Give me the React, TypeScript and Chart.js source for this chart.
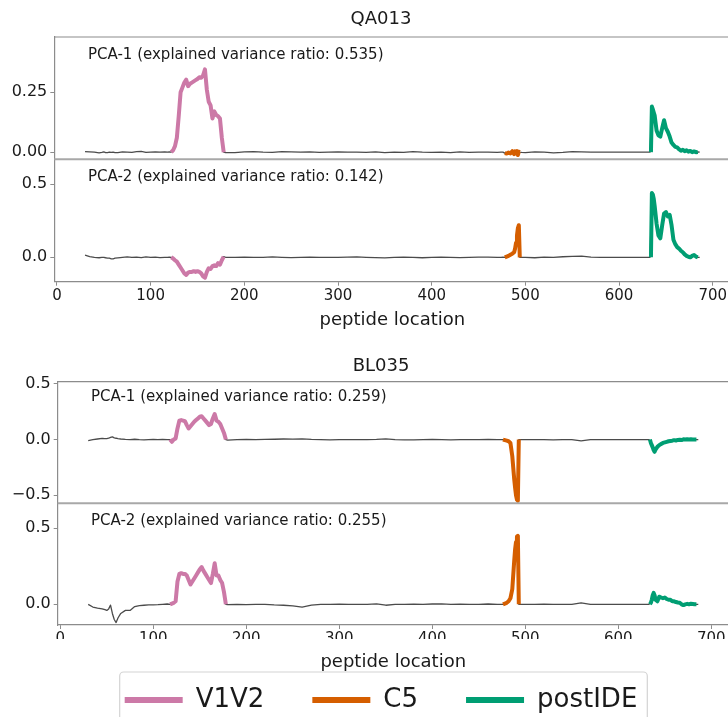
import React, { useEffect, useRef } from 'react';
import { Chart, registerables } from 'chart.js';

Chart.register(...registerables);

const FONT = "'DejaVu Sans', 'Liberation Sans', sans-serif";
Chart.defaults.font.family = FONT;

// peptide positions shared by all four panels
const positions = [
  30, 35, 40, 45, 48, 50, 52, 54, 56, 58, 60, 62, 65, 70, 75, 80, 85, 90, 95, 100, 105, 110, 115,
  118, 120, 122, 124, 126, 128, 130, 132, 134, 136, 138, 140, 142, 144, 146, 148, 150, 152, 154, 156, 158, 160, 162, 164, 166, 168, 170, 172, 174, 176, 178, 180,
  190, 200, 210, 220, 230, 240, 250, 260, 270, 280, 290, 300, 310, 320, 330, 340, 350, 360, 370, 380, 390, 400, 410, 420, 430, 440, 450, 460, 470,
  474, 476, 478, 480, 482, 484, 486, 488, 489, 490, 491, 492, 493, 494, 496,
  500, 510, 520, 530, 540, 550, 560, 570, 580, 590, 600, 610, 620, 630,
  632, 633, 634, 635, 636, 637, 638, 639, 640, 642, 644, 646, 648, 650, 652, 654, 656, 658, 660, 662, 664, 666, 668, 670, 672, 674, 676, 678, 680, 682, 684, 686,
];

const qa013Pca1 = [
  0.002, 0.001, 0.0, -0.003, -0.001, 0.001, -0.002, -0.002, 0.0, -0.001, 0.0, -0.002, -0.002, 0.001, 0.0, -0.001, 0.002, 0.003, -0.001, 0.0, 0.001, 0.0, 0.001,
  0.0, 0.001, 0.0, 0.008, 0.025, 0.06, 0.15, 0.25, 0.27, 0.29, 0.302, 0.275, 0.285, 0.29, 0.295, 0.3, 0.305, 0.312, 0.31, 0.32, 0.345, 0.26, 0.21, 0.195, 0.14, 0.17, 0.155, 0.15, 0.14, 0.06, 0.0, -0.002,
  -0.002, 0.001, 0.002, 0.0, -0.001, 0.002, 0.001, 0.0, 0.001, -0.001, 0.0, 0.001, 0.0, 0.0, -0.001, 0.001, -0.002, 0.0, -0.001, 0.002, 0.0, -0.001, 0.0, -0.002, 0.001, -0.001, 0.0, 0.0, -0.001,
  0.0, 0.0, -0.004, -0.006, -0.002, -0.005, 0.004, -0.008, 0.003, -0.006, 0.005, -0.012, 0.002, 0.0, -0.001,
  -0.002, 0.001, 0.0, -0.003, -0.001, 0.002, 0.001, 0.0, 0.0, 0.0, 0.0, 0.0, 0.0, 0.0,
  0.0, 0.0, 0.0, 0.19, 0.178, 0.165, 0.152, 0.12, 0.09, 0.07, 0.065, 0.1, 0.133, 0.1, 0.085, 0.065, 0.04, 0.03, 0.022, 0.02, 0.012, 0.006, 0.01, 0.004, 0.008, 0.002, 0.005, 0.0, 0.003, 0.0, 0.001, 0.0,
];

const qa013Pca2 = [
  0.015, 0.005, 0.0, -0.003, 0.0, 0.0, -0.003, -0.005, -0.006, -0.01, -0.01, -0.006, -0.004, 0.0, 0.003, 0.0, 0.002, -0.002, 0.003, 0.0, 0.002, -0.002, 0.0,
  0.0, 0.002, 0.0, -0.008, -0.02, -0.03, -0.05, -0.07, -0.09, -0.11, -0.12, -0.105, -0.1, -0.1, -0.095, -0.1, -0.095, -0.1, -0.11, -0.13, -0.14, -0.1, -0.075, -0.08, -0.06, -0.055, -0.06, -0.04, -0.05, -0.02, 0.005, 0.0,
  0.0, 0.002, -0.001, 0.0, 0.003, 0.0, -0.002, 0.0, 0.001, 0.0, -0.001, 0.0, 0.002, 0.003, 0.0, -0.002, -0.004, 0.0, 0.002, 0.0, -0.003, 0.0, 0.001, 0.0, -0.002, 0.0, 0.002, 0.001, 0.0,
  0.0, 0.002, 0.0, 0.005, 0.01, 0.018, 0.025, 0.035, 0.06, 0.1, 0.15, 0.2, 0.22, 0.0, 0.0,
  0.0, -0.003, 0.002, 0.0, 0.004, 0.006, 0.008, 0.002, 0.0, 0.0, 0.0, 0.0, 0.0, 0.0,
  0.0, 0.0, 0.0, 0.44, 0.43, 0.4, 0.35, 0.29, 0.23, 0.15, 0.13, 0.22, 0.3, 0.31, 0.28, 0.29, 0.22, 0.12, 0.09, 0.07, 0.06, 0.045, 0.035, 0.02, 0.01, 0.004, 0.0, 0.01, 0.016, 0.005, 0.0, 0.0,
];

const bl035Pca1 = [
  -0.01, 0.0, 0.005, 0.01, 0.008, 0.008, 0.012, 0.02, 0.025, 0.015, 0.012, 0.008, 0.005, 0.002, 0.0, 0.003, 0.0, -0.002, 0.0, 0.002, 0.0, 0.001, 0.0,
  0.0, -0.02, 0.0, 0.01, 0.1, 0.17, 0.175, 0.17, 0.165, 0.13, 0.1, 0.12, 0.14, 0.16, 0.175, 0.19, 0.205, 0.21, 0.19, 0.17, 0.15, 0.13, 0.14, 0.19, 0.23, 0.17, 0.16, 0.14, 0.1, 0.06, 0.0, -0.005,
  0.0, 0.002, 0.0, 0.001, 0.003, 0.005, 0.004, 0.006, 0.002, 0.0, -0.002, 0.0, 0.0, -0.001, 0.0, 0.002, 0.006, 0.0, -0.003, -0.002, 0.0, 0.001, 0.0, -0.002, 0.0, 0.0, 0.0, 0.001, 0.0,
  0.0, 0.0, -0.005, -0.01, -0.015, -0.03, -0.15, -0.35, -0.43, -0.5, -0.54, -0.55, 0.0, 0.0, 0.0,
  0.0, 0.0, 0.0, -0.002, 0.0, 0.0, -0.012, 0.0, 0.0, 0.0, 0.0, 0.0, 0.0, 0.0,
  0.0, 0.0, 0.0, -0.03, -0.05, -0.07, -0.095, -0.11, -0.09, -0.065, -0.05, -0.04, -0.03, -0.025, -0.02, -0.015, -0.012, -0.01, -0.005, -0.008, -0.003, -0.001, -0.004, 0.002, 0.0, 0.003, 0.0, 0.002, 0.0, 0.0, 0.0, 0.0,
];

const bl035Pca2 = [
  0.0, -0.018, -0.025, -0.03, -0.035, -0.04, -0.03, -0.005, -0.06, -0.1, -0.12, -0.09, -0.06, -0.04, -0.04, -0.015, -0.008, -0.006, -0.004, -0.003, -0.002, 0.0, 0.002,
  0.0, 0.005, 0.01, 0.02, 0.15, 0.2, 0.205, 0.2, 0.2, 0.19, 0.16, 0.13, 0.15, 0.17, 0.19, 0.21, 0.23, 0.245, 0.22, 0.2, 0.18, 0.16, 0.14, 0.2, 0.27, 0.19, 0.19, 0.16, 0.14, 0.08, 0.0, -0.002,
  0.0, -0.002, 0.0, 0.0, -0.004, -0.006, -0.01, -0.018, -0.005, 0.0, 0.0, 0.001, 0.0, -0.001, 0.0, 0.003, -0.006, 0.0, 0.0, 0.001, 0.0, 0.002, 0.003, 0.0, 0.001, 0.0, 0.0, 0.002, 0.0,
  0.0, 0.0, 0.005, 0.01, 0.02, 0.04, 0.1, 0.28, 0.36, 0.41, 0.445, 0.45, 0.0, 0.0, 0.0,
  0.0, 0.0, 0.001, 0.0, 0.0, 0.0, 0.01, 0.0, 0.0, 0.0, 0.0, 0.0, 0.0, 0.0,
  0.0, 0.0, 0.0, 0.01, 0.03, 0.06, 0.075, 0.06, 0.03, 0.02, 0.05, 0.045, 0.04, 0.045, 0.035, 0.03, 0.03, 0.02, 0.02, 0.015, 0.012, 0.01, 0.0, -0.005, 0.0, 0.003, 0.0, 0.004, 0.002, 0.0, 0.0, 0.0,
];

const regionNames = ['V1V2', 'C5', 'postIDE'];
const regionColors = ['#cc79a7', '#d55e00', '#009e73'];
const qa013RegionStarts = [122, 478, 634];
const qa013RegionEnds = [178, 494, 684];
const bl035RegionStarts = [118, 476, 634];
const bl035RegionEnds = [178, 493, 684];

const xTickValues = [0, 100, 200, 300, 400, 500, 600, 700];
const qa013Pca1Ticks = [0, 0.25];
const qa013Pca1TickLabels = ['0.00', '0.25'];
const qa013Pca2Ticks = [0, 0.5];
const qa013Pca2TickLabels = ['0.0', '0.5'];
const bl035Pca1Ticks = [-0.5, 0, 0.5];
const bl035Pca1TickLabels = ['\u22120.5', '0.0', '0.5'];
const bl035Pca2Ticks = [0, 0.5];
const bl035Pca2TickLabels = ['0.0', '0.5'];

const qa013Ratios = ['0.535', '0.142'];
const bl035Ratios = ['0.259', '0.255'];

const SPINE = '#8c8c8c';
const TEXT = '#1a1a1a';

function panelDatasets(values: number[], axisId: string, starts: number[], ends: number[], inLegend: boolean, name: string) {
  const points = positions.map((x, i) => ({ x, y: values[i] }));
  const sets: any[] = [
    {
      label: name,
      data: points,
      yAxisID: axisId,
      xAxisID: 'x',
      borderColor: 'rgba(55,55,55,0.9)',
      backgroundColor: 'rgba(55,55,55,0.9)',
      borderWidth: 1.3,
      order: 1,
      inLegend: false,
    },
  ];
  regionNames.forEach((rn, r) => {
    sets.push({
      label: rn,
      data: points.filter((p) => p.x >= starts[r] && p.x <= ends[r]),
      yAxisID: axisId,
      xAxisID: 'x',
      borderColor: regionColors[r],
      backgroundColor: regionColors[r],
      borderWidth: 4,
      order: 0,
      inLegend,
    });
  });
  return sets;
}

function yScale(stack: string, min: number, max: number, ticks: number[], labels: string[], width: number) {
  return {
    type: 'linear',
    position: 'left',
    stack,
    stackWeight: 1,
    min,
    max,
    afterBuildTicks: (s: any) => {
      s.ticks = ticks.map((v) => ({ value: v }));
    },
    afterFit: (s: any) => {
      s.width = width;
    },
    ticks: {
      callback: (_v: any, i: number) => labels[i],
      font: { family: FONT, size: 16 },
      color: TEXT,
      padding: 3,
    },
    grid: { display: true, drawOnChartArea: false, drawTicks: true, tickLength: 4, color: SPINE, lineWidth: 1 },
    border: { display: true, color: SPINE, width: 1.2 },
  };
}

// empty right-hand strip: keeps the plotting area inside the picture while
// the title and legend stay centred on the full figure width
function padScale(width: number) {
  return {
    type: 'linear',
    position: 'right',
    display: true,
    afterFit: (s: any) => {
      s.width = width;
    },
    ticks: { display: false },
    grid: { display: false },
    border: { display: false },
  };
}

function xScale(height: number, titlePadBottom: number) {
  return {
    type: 'linear',
    position: 'bottom',
    min: -2.8,
    max: 718.8,
    afterBuildTicks: (s: any) => {
      s.ticks = xTickValues.map((v) => ({ value: v }));
    },
    afterFit: (s: any) => {
      s.height = height;
    },
    ticks: { font: { family: FONT, size: 15 }, color: TEXT, padding: 1, maxRotation: 0, autoSkip: false },
    grid: { display: true, drawOnChartArea: false, drawTicks: true, tickLength: 4, color: SPINE, lineWidth: 1 },
    border: { display: true, color: SPINE, width: 1.2 },
    title: {
      display: true,
      text: 'peptide location',
      font: { family: FONT, size: 18 },
      color: TEXT,
      padding: { top: 0, bottom: titlePadBottom },
    },
  };
}

const spinePlugin = {
  id: 'spines',
  afterDraw(chart: any) {
    const { ctx, chartArea } = chart;
    ctx.save();
    Object.values(chart.scales).forEach((s: any) => {
      if (s.axis !== 'y' || s.options.position !== 'left') return;
      const isTop = Math.abs(s.top - chartArea.top) < 0.5;
      ctx.strokeStyle = isTop ? SPINE : '#a8a8a8';
      ctx.lineWidth = isTop ? 1.2 : 2;
      ctx.beginPath();
      ctx.moveTo(chartArea.left, s.top);
      ctx.lineTo(chartArea.right, s.top);
      ctx.stroke();
    });
    ctx.strokeStyle = SPINE;
    ctx.lineWidth = 1.2;
    ctx.beginPath();
    ctx.moveTo(chartArea.right, chartArea.top);
    ctx.lineTo(chartArea.right, chartArea.bottom);
    ctx.stroke();
    ctx.restore();
  },
};

const panelLabelPlugin = {
  id: 'panelLabels',
  afterDraw(chart: any, _args: any, opts: any) {
    const { ctx } = chart;
    ctx.save();
    ctx.font = `15px ${FONT}`;
    ctx.fillStyle = TEXT;
    ctx.textBaseline = 'middle';
    ctx.textAlign = 'left';
    (opts.items || []).forEach((item: any) => {
      const s = chart.scales[item.axis];
      ctx.fillText(item.text, item.left, s.top + item.fy * s.height);
    });
    ctx.restore();
  },
};

const legendFramePlugin = {
  id: 'legendFrame',
  afterDraw(chart: any) {
    const lg = chart.legend;
    if (!lg || !lg.options.display || !lg.legendHitBoxes || !lg.legendHitBoxes.length) return;
    const hb = lg.legendHitBoxes;
    const first = hb[0];
    const last = hb[hb.length - 1];
    const left = first.left - 5;
    const right = last.left + last.width + 10;
    const top = first.top - 15;
    const bottom = first.top + first.height + 40;
    const { ctx } = chart;
    ctx.save();
    ctx.strokeStyle = '#d4d4d4';
    ctx.lineWidth = 1.2;
    ctx.beginPath();
    ctx.roundRect(left, top, right - left, bottom - top, 4);
    ctx.stroke();
    ctx.restore();
  },
};

function groupConfig(opts: {
  title: string;
  titlePad: { top: number; bottom: number };
  padLeft: number;
  padRight: number;
  rightStrip: number;
  xHeight: number;
  xTitlePad: number;
  datasets: any[];
  scales: any;
  labels: any[];
  legend: boolean;
}) {
  return {
    type: 'line',
    data: { datasets: opts.datasets },
    options: {
      animation: false,
      responsive: false,
      devicePixelRatio: 1,
      events: [],
      layout: { padding: { left: opts.padLeft, right: opts.padRight, top: 0, bottom: 0 } },
      elements: {
        point: { radius: 0, hoverRadius: 0 },
        line: { tension: 0, borderJoinStyle: 'round', borderCapStyle: 'butt', fill: false },
      },
      scales: { x: xScale(opts.xHeight, opts.xTitlePad), ...opts.scales, yPad: padScale(opts.rightStrip) },
      plugins: {
        tooltip: { enabled: false },
        title: {
          display: true,
          text: opts.title,
          font: { family: FONT, size: 18, weight: 'normal', lineHeight: 1.2 },
          color: TEXT,
          padding: opts.titlePad,
        },
        legend: {
          display: opts.legend,
          position: 'bottom',
          labels: {
            font: { family: FONT, size: 26 },
            color: TEXT,
            usePointStyle: true,
            pointStyle: 'line',
            pointStyleWidth: 58,
            padding: 48,
            filter: (item: any, data: any) => !!data.datasets[item.datasetIndex].inLegend,
            generateLabels: (chart: any) =>
              (Chart.defaults.plugins.legend.labels as any)
                .generateLabels(chart)
                .map((l: any) => ({ ...l, lineWidth: 6, pointStyle: 'line', lineCap: 'butt' })),
          },
        },
        panelLabels: { items: opts.labels },
      },
    },
    plugins: [spinePlugin, panelLabelPlugin, legendFramePlugin],
  };
}

export default function App() {
  const topRef = useRef<HTMLCanvasElement>(null);
  const botRef = useRef<HTMLCanvasElement>(null);

  useEffect(() => {
    const topCfg: any = groupConfig({
      title: 'QA013',
      titlePad: { top: 8.2, bottom: 7.2 },
      padLeft: 4,
      padRight: 12,
      rightStrip: 27.6,
      xHeight: 52.3,
      xTitlePad: 3.2,
      legend: false,
      datasets: [
        ...panelDatasets(qa013Pca1, 'yA', qa013RegionStarts, qa013RegionEnds, false, 'QA013 PCA-1'),
        ...panelDatasets(qa013Pca2, 'yB', qa013RegionStarts, qa013RegionEnds, false, 'QA013 PCA-2'),
      ],
      scales: {
        yB: yScale('qa013', -0.167, 0.671, qa013Pca2Ticks, qa013Pca2TickLabels, 50.3),
        yA: yScale('qa013', -0.03, 0.48, qa013Pca1Ticks, qa013Pca1TickLabels, 50.3),
      },
      labels: [
        { axis: 'yA', text: `PCA-1 (explained variance ratio: ${qa013Ratios[0]})`, left: 88, fy: 0.15 },
        { axis: 'yB', text: `PCA-2 (explained variance ratio: ${qa013Ratios[1]})`, left: 88, fy: 0.145 },
      ],
    });
    const botCfg: any = groupConfig({
      title: 'BL035',
      titlePad: { top: 21.2, bottom: 4.9 },
      padLeft: 4,
      padRight: 12,
      rightStrip: 29.2,
      xHeight: 14,
      xTitlePad: -33.8,
      legend: true,
      datasets: [
        ...panelDatasets(bl035Pca1, 'yC', bl035RegionStarts, bl035RegionEnds, false, 'BL035 PCA-1'),
        ...panelDatasets(bl035Pca2, 'yD', bl035RegionStarts, bl035RegionEnds, true, 'BL035 PCA-2'),
      ],
      scales: {
        yD: yScale('bl035', -0.136, 0.664, bl035Pca2Ticks, bl035Pca2TickLabels, 53.7),
        yC: yScale('bl035', -0.573, 0.52, bl035Pca1Ticks, bl035Pca1TickLabels, 53.7),
      },
      labels: [
        { axis: 'yC', text: `PCA-1 (explained variance ratio: ${bl035Ratios[0]})`, left: 91, fy: 0.13 },
        { axis: 'yD', text: `PCA-2 (explained variance ratio: ${bl035Ratios[1]})`, left: 91, fy: 0.145 },
      ],
    });
    const c1 = new Chart(topRef.current as HTMLCanvasElement, topCfg);
    const c2 = new Chart(botRef.current as HTMLCanvasElement, botCfg);
    return () => {
      c1.destroy();
      c2.destroy();
    };
  }, []);

  return (
    <div
      style={{
        position: 'fixed',
        left: 0,
        top: 0,
        width: 728,
        height: 717,
        overflow: 'hidden',
        background: '#ffffff',
      }}
    >
      <canvas
        ref={topRef}
        width={770}
        height={334}
        style={{ position: 'absolute', left: 0, top: 0, width: 770, height: 334 }}
      />
      <canvas
        ref={botRef}
        width={770}
        height={389}
        style={{ position: 'absolute', left: 0, top: 334, width: 770, height: 389 }}
      />
    </div>
  );
}
